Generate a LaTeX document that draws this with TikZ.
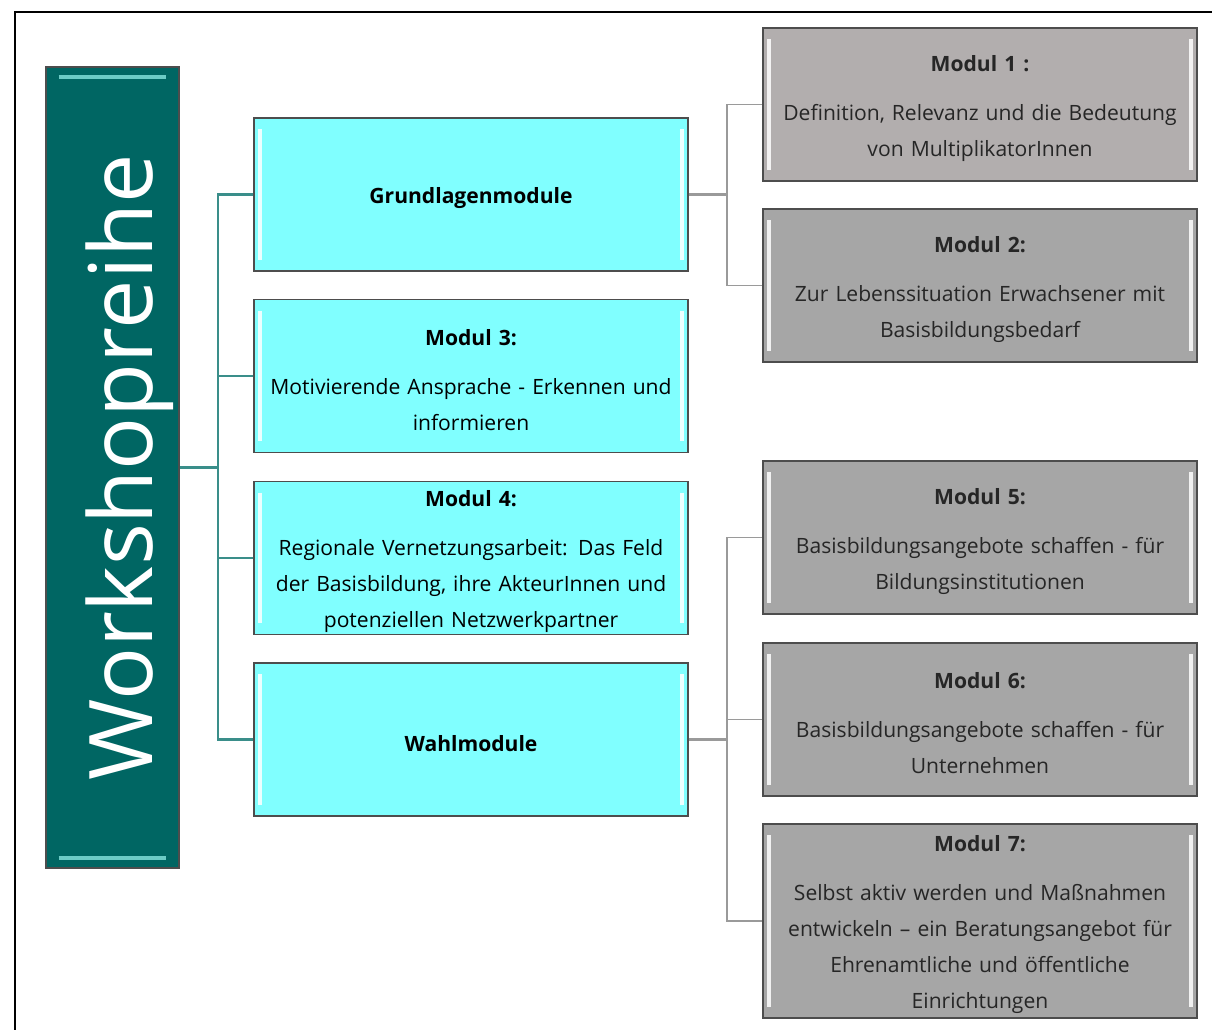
\documentclass[tikz,border=0pt]{standalone}
\usepackage{fontspec}
\setmainfont{Open Sans}
\definecolor{wsteal}{HTML}{006663}
\definecolor{wsshine}{HTML}{6CCBC6}
\definecolor{cyanfill}{HTML}{80FFFF}
\definecolor{greyfill}{HTML}{A6A6A6}
\definecolor{greylight}{HTML}{B2AEAE}
\definecolor{boxedge}{HTML}{4D4D4D}
\definecolor{greytext}{HTML}{262626}
\definecolor{tealline}{HTML}{3A8E8A}
\definecolor{greyline}{HTML}{9A9A9A}
\tikzstyle{box}=[draw=boxedge, line width=1.1pt, minimum width=8.68cm, minimum height=3.06cm, text width=8.4cm, align=center, inner sep=0pt, font=\fontsize{12}{20.5}\selectfont]
\tikzstyle{sideshine}=[path picture={
  \draw[white, line width=2pt, opacity=0.85] ([shift={(0.12cm,-0.22cm)}]path picture bounding box.north west) -- ([shift={(0.12cm,0.22cm)}]path picture bounding box.south west);
  \draw[white, line width=2pt, opacity=0.85] ([shift={(-0.12cm,-0.22cm)}]path picture bounding box.north east) -- ([shift={(-0.12cm,0.22cm)}]path picture bounding box.south east);}]
\tikzstyle{topshine}=[path picture={
  \draw[wsshine, line width=1.8pt] ([shift={(0.25cm,-0.2cm)}]path picture bounding box.north west) -- ([shift={(-0.25cm,-0.2cm)}]path picture bounding box.north east);
  \draw[wsshine, line width=1.8pt] ([shift={(0.25cm,0.2cm)}]path picture bounding box.south west) -- ([shift={(-0.25cm,0.2cm)}]path picture bounding box.south east);}]
\tikzstyle{cyanbox}=[box, sideshine, fill=cyanfill]
\tikzstyle{greybox}=[box, sideshine, fill=greyfill, text=greytext]
\tikzstyle{wsbox}=[draw=boxedge, line width=1.1pt, fill=wsteal, topshine, minimum width=2.66cm, minimum height=16.02cm]
\tikzstyle{tealconn}=[tealline, line width=1.2pt]
\tikzstyle{greystem}=[greyline, line width=1.6pt]
\tikzstyle{greyconn}=[greyline, line width=1pt]
\newcommand{\modtitle}[1]{\rule{0pt}{13.5pt}\textbf{#1}\\[0.26cm]}

\begin{document}
\begin{tikzpicture}[x=0.02cm, y=-0.02cm]
  \useasboundingbox (0,0) rectangle (1212,1030);
  \draw[black, line width=0.9pt] (1212,12) -- (15,12) -- (15,1030);

  \node[wsbox] (ws) at (112.5,467.5) {};
  \node[rotate=90, anchor=base, text=white, font=\fontsize{50}{50}\selectfont] (wstext) at (152,467.5) {Workshopreihe};

  \node[cyanbox] (grund) at (471,194.5) {\rule{0pt}{13.5pt}\textbf{Grundlagenmodule}};
  \node[cyanbox] (m3) at (471,376) {\modtitle{Modul 3:}Motivierende Ansprache - Erkennen und\\informieren};
  \node[cyanbox] (m4) at (471,558) {\modtitle{Modul 4:}Regionale Vernetzungsarbeit: Das Feld\\der Basisbildung, ihre AkteurInnen und\\potenziellen Netzwerkpartner};
  \node[cyanbox] (wahl) at (471,739.5) {\rule{0pt}{13.5pt}\textbf{Wahlmodule}};

  \node[greybox, fill=greylight] (m1) at (980,104.5) {\modtitle{Modul 1 :}Definition, Relevanz und die Bedeutung\\von MultiplikatorInnen};
  \node[greybox] (m2) at (980,285.5) {\modtitle{Modul 2:}Zur Lebenssituation Erwachsener mit\\Basisbildungsbedarf};
  \node[greybox] (m5) at (980,537.5) {\modtitle{Modul 5:}Basisbildungsangebote schaffen - für\\Bildungsinstitutionen};
  \node[greybox] (m6) at (980,719.5) {\modtitle{Modul 6:}Basisbildungsangebote schaffen - für\\Unternehmen};
  \node[greybox, minimum height=3.88cm] (m7) at (980,921) {\modtitle{Modul 7:}Selbst aktiv werden und Maßnahmen\\entwickeln – ein Beratungsangebot für\\Ehrenamtliche und öffentliche\\Einrichtungen};

  \draw[tealconn] (ws.east) -- ++(38,0) coordinate (tj);
  \foreach \n in {grund,m3,m4,wahl}
    \draw[tealconn] (tj) |- (\n.west);

  \draw[greystem] (grund.east) -- ++(38,0) coordinate (gj);
  \foreach \n in {m1,m2}
    \draw[greyconn] (gj) |- (\n.west);

  \draw[greystem] (wahl.east) -- ++(38,0) coordinate (wj);
  \foreach \n in {m5,m6,m7}
    \draw[greyconn] (wj) |- (\n.west);
\end{tikzpicture}
\end{document}
